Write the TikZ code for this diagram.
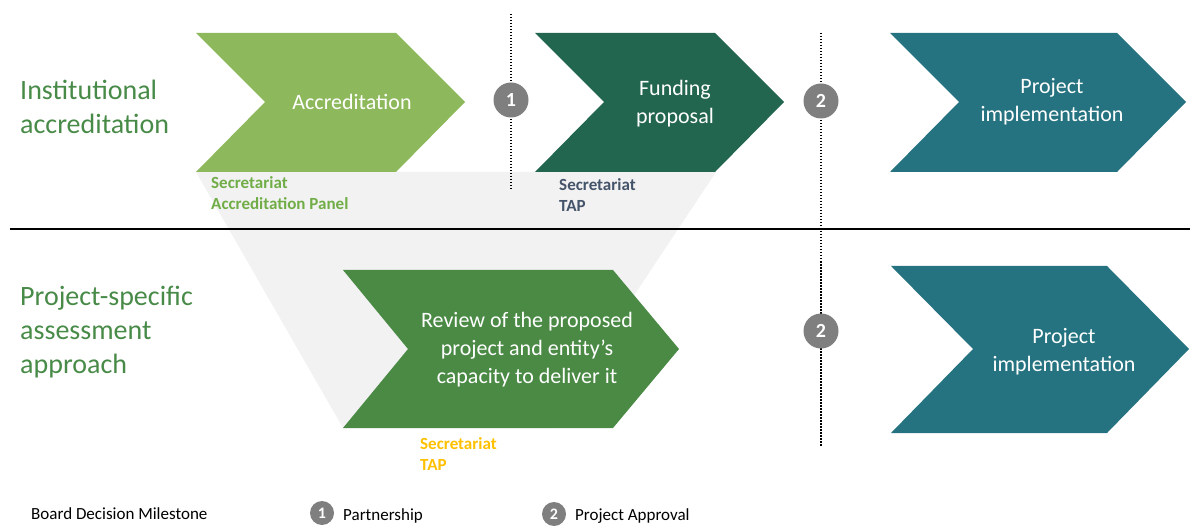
\documentclass[tikz,border=0pt]{standalone}
\usepackage{fontspec}
\setmainfont{Carlito}

\definecolor{accgreen}{RGB}{141,185,92}
\definecolor{fundgreen}{RGB}{35,102,80}
\definecolor{implteal}{RGB}{37,115,128}
\definecolor{reviewgreen}{RGB}{74,138,69}
\definecolor{rowgreen}{RGB}{72,138,72}
\definecolor{funnelgray}{RGB}{242,242,242}
\definecolor{milegray}{RGB}{127,127,127}
\definecolor{panelgreen}{RGB}{112,173,71}
\definecolor{tapslate}{RGB}{68,84,106}
\definecolor{tapyellow}{RGB}{255,192,0}

\begin{document}
\begin{tikzpicture}[x=1pt, y=-1pt,
    chevtext/.style={text=white, font=\fontsize{22}{28}\selectfont, align=center, inner sep=0pt},
    rowlabel/.style={text=rowgreen, font=\fontsize{28}{34}\selectfont, align=left, anchor=north west, inner sep=0pt},
    actor/.style={font=\bfseries\fontsize{17}{21}\selectfont, align=left, anchor=north west, inner sep=0pt},
    milestone/.style={circle, fill=milegray, text=white, minimum size=35pt, inner sep=0pt, font=\bfseries\fontsize{20}{20}\selectfont},
    smallmile/.style={milestone, minimum size=24pt, font=\bfseries\fontsize{16}{16}\selectfont},
    mileline/.style={line width=2.2pt, dash pattern=on 1.5pt off 1.5pt},
    legend/.style={font=\fontsize{17}{20}\selectfont, anchor=base west, inner sep=0pt}]

    \useasboundingbox (0,0) rectangle (1190,526);

    % Grey funnel from the top row down to the review step
    \fill[funnelgray] (196,172) -- (716,172) -- (546,428) -- (343,428) -- cycle;

    % Chevrons of the top row
    \fill[accgreen] (196,33) -- (396,33) -- (465,102) -- (396,172) -- (196,172) -- (265,102) -- cycle;
    \fill[fundgreen] (535,33) -- (715,33) -- (784,102) -- (715,172) -- (535,172) -- (604,102) -- cycle;
    \fill[implteal] (890,33) -- (1117,33) -- (1186,102) -- (1117,172) -- (890,172) -- (959,102) -- cycle;

    % Chevrons of the bottom row
    \fill[reviewgreen] (343,270) -- (613,270) -- (679,349) -- (613,428) -- (343,428) -- (408,349) -- cycle;
    \fill[implteal] (891,266) -- (1107,266) -- (1189,349) -- (1107,433) -- (891,433) -- (973,349) -- cycle;

    % Texts in the chevrons
    \node[chevtext] (accr) at (352,102) {Accreditation};
    \node[chevtext] (fund) at (675,104) {Funding\\proposal};
    \node[chevtext] (implA) at (1052,102) {Project\\implementation};
    \node[chevtext] (review) at (527,350) {Review of the proposed\\project and entity’s\\capacity to deliver it};
    \node[chevtext] (implB) at (1064,352) {Project\\implementation};

    % Row labels
    \node[rowlabel] (rowA) at (20,80) {Institutional\\accreditation};
    \node[rowlabel] (rowB) at (20,286) {Project-specific\\assessment\\approach};

    % Who reviews each step
    \node[actor, text=panelgreen] (panel) at (211,176) {Secretariat\\Accreditation Panel};
    \node[actor, text=tapslate] (tapA) at (559,178) {Secretariat\\TAP};
    \node[actor, text=tapyellow] (tapB) at (420,437) {Secretariat\\TAP};

    % Separator between the two rows
    \coordinate (sepL) at (10,229);
    \coordinate (sepR) at (1190,229);
    \draw[line width=1.2pt] (sepL) -- (sepR);

    % Board decision milestones
    \coordinate (m1top) at (511,14);
    \coordinate (m1bot) at (511,190);
    \coordinate (m2top) at (821,33);
    \coordinate (m2bot) at (821,447);
    \draw[mileline] (m1top) -- (m1bot);
    \draw[mileline] (m2top) -- (m2bot);
    \node[milestone] (mA) at (511,100) {1};
    \node[milestone] (mB) at (821,101) {2};
    \node[milestone] (mC) at (821,331) {2};

    % Legend
    \node[legend] (boardkey) at (31,519) {Board Decision Milestone};
    \node[smallmile] (keyA) at (322,513) {1};
    \node[legend] (partner) at (343,520) {Partnership};
    \node[smallmile] (keyB) at (554,514) {2};
    \node[legend] (approval) at (575,520) {Project Approval};

\end{tikzpicture}
\end{document}
